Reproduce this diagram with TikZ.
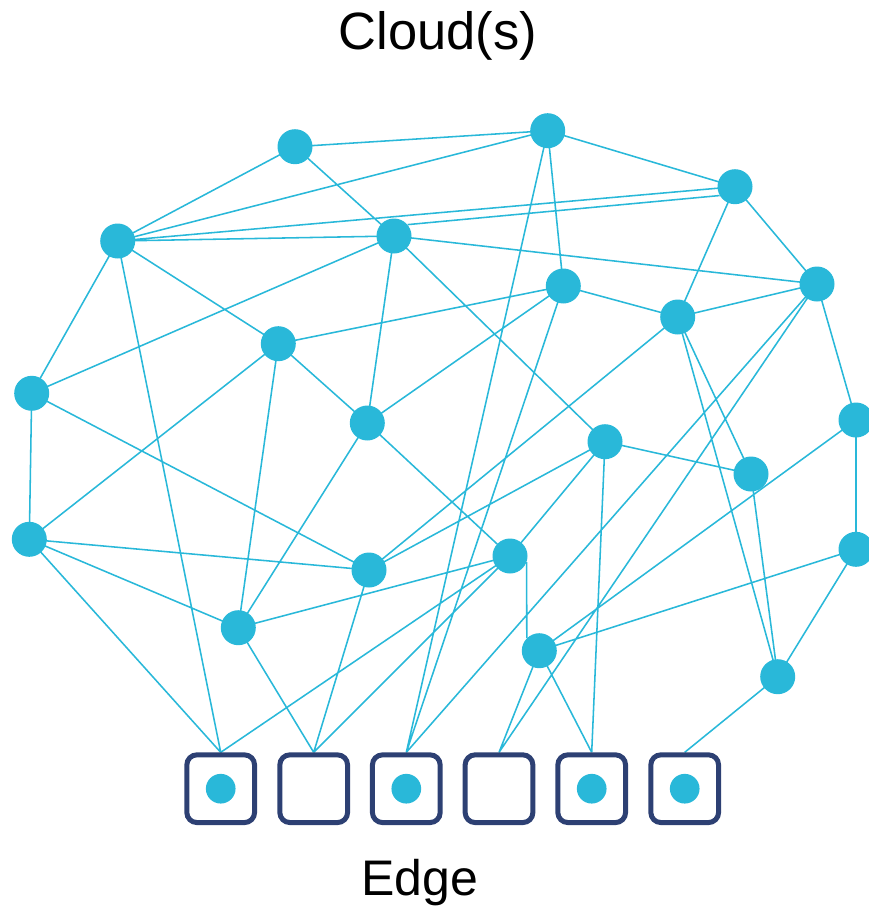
\documentclass[tikz,border=0pt]{standalone}
\usepackage{fontspec}
\setmainfont{Liberation Sans}
\usetikzlibrary{backgrounds}
\definecolor{cyanc}{RGB}{41,184,217}
\definecolor{navyc}{RGB}{45,64,115}
\begin{document}
\begin{tikzpicture}[x=1pt,y=-1pt,
  cn/.style={circle,fill=cyanc,minimum size=35pt,inner sep=0pt},
  ebox/.style={rectangle,draw=navyc,line width=5pt,rounded corners=10pt,minimum size=67.7pt,inner sep=0pt},
  dotc/.style={circle,fill=cyanc,minimum size=29.7pt,inner sep=0pt},
  link/.style={draw=cyanc,line width=1.55pt},
  lbl/.style={font=\fontsize{52.5}{60}\selectfont,anchor=base,inner sep=0pt}]
\useasboundingbox (0,0) rectangle (869,907);
\node[lbl] (cloud) at (438,50) {Cloud(s)};
\node[lbl,font=\fontsize{50}{58}\selectfont] (edge) at (420,895.7) {Edge};
% cloud nodes
\node[cn] (A) at (295,146.7) {};
\node[cn] (B) at (547.7,130.7) {};
\node[cn] (C) at (735,186.7) {};
\node[cn] (D) at (117.7,241) {};
\node[cn] (E) at (394,236) {};
\node[cn] (F) at (563.3,286) {};
\node[cn] (G) at (677.7,317) {};
\node[cn] (H) at (817,284) {};
\node[cn] (I) at (278.3,343.7) {};
\node[cn] (J) at (31.7,393.3) {};
\node[cn] (K) at (367.3,423) {};
\node[cn] (L) at (605,441.7) {};
\node[cn] (M) at (856,420) {};
\node[cn] (N) at (751,474) {};
\node[cn] (O) at (29.3,539.3) {};
\node[cn] (P) at (369,570) {};
\node[cn] (Q) at (510,556) {};
\node[cn] (R) at (856,549.3) {};
\node[cn] (S) at (238.3,627.7) {};
\node[cn] (T) at (539.3,650.7) {};
\node[cn] (U) at (777.7,676.7) {};
% edge boxes
\node[ebox] (b1) at (220.7,788.7) {};
\node[ebox] (b2) at (313.7,788.7) {};
\node[ebox] (b3) at (406.3,788.7) {};
\node[ebox] (b4) at (499,788.7) {};
\node[ebox] (b5) at (591.7,788.7) {};
\node[ebox] (b6) at (684.7,788.7) {};
\node[dotc] (d1) at (b1.center) {};
\node[dotc] (d3) at (b3.center) {};
\node[dotc] (d5) at (b5.center) {};
\node[dotc] (d6) at (b6.center) {};
\begin{pgfonlayer}{background}
\path[link] (A.center) -- (B.center) (A.center) -- (D.center) (A.center) -- (E.center)
  (B.center) -- (D.center) (B.center) -- (C.center) (B.center) -- (F.center) (B.center) -- (b3.north)
  (C.center) -- (D.center) (E.40) -- (C.210) (C.center) -- (G.center) (C.center) -- (H.center)
  (D.center) -- (E.center) (D.center) -- (J.center) (D.center) -- (I.center) (D.center) -- (b1.north)
  (E.center) -- (H.center) (E.center) -- (J.center) (E.center) -- (K.center) (E.center) -- (L.center)
  (F.center) -- (I.center) (F.center) -- (K.center) (F.center) -- (G.center) (F.center) -- (b3.north)
  (G.center) -- (H.center) (G.center) -- (P.center) (G.center) -- (N.center) (G.center) -- (U.center)
  (H.center) -- (M.center) (H.center) -- (b3.north) (H.center) -- (b4.north)
  (I.center) -- (K.center) (I.center) -- (O.center) (I.center) -- (S.center)
  (J.center) -- (O.center) (J.center) -- (P.center)
  (K.center) -- (Q.center) (K.center) -- (S.center)
  (L.center) -- (N.center) (L.center) -- (b5.north) (L.center) -- (Q.center) (L.center) -- (P.center)
  (M.center) -- (R.center) (M.center) -- (T.center)
  (N.center) -- (U.center)
  (O.center) -- (P.center) (O.center) -- (S.center) (O.center) -- (b1.north)
  (P.center) -- (b2.north)
  (Q.-20) -- (T.135) (Q.center) -- (S.center) (Q.center) -- (b1.north) (Q.center) -- (b2.north)
  (R.center) -- (T.center) (R.center) -- (U.center)
  (S.center) -- (b2.north)
  (T.center) -- (b4.north) (T.center) -- (b5.north)
  (U.center) -- (b6.north);
\end{pgfonlayer}
\end{tikzpicture}
\end{document}
